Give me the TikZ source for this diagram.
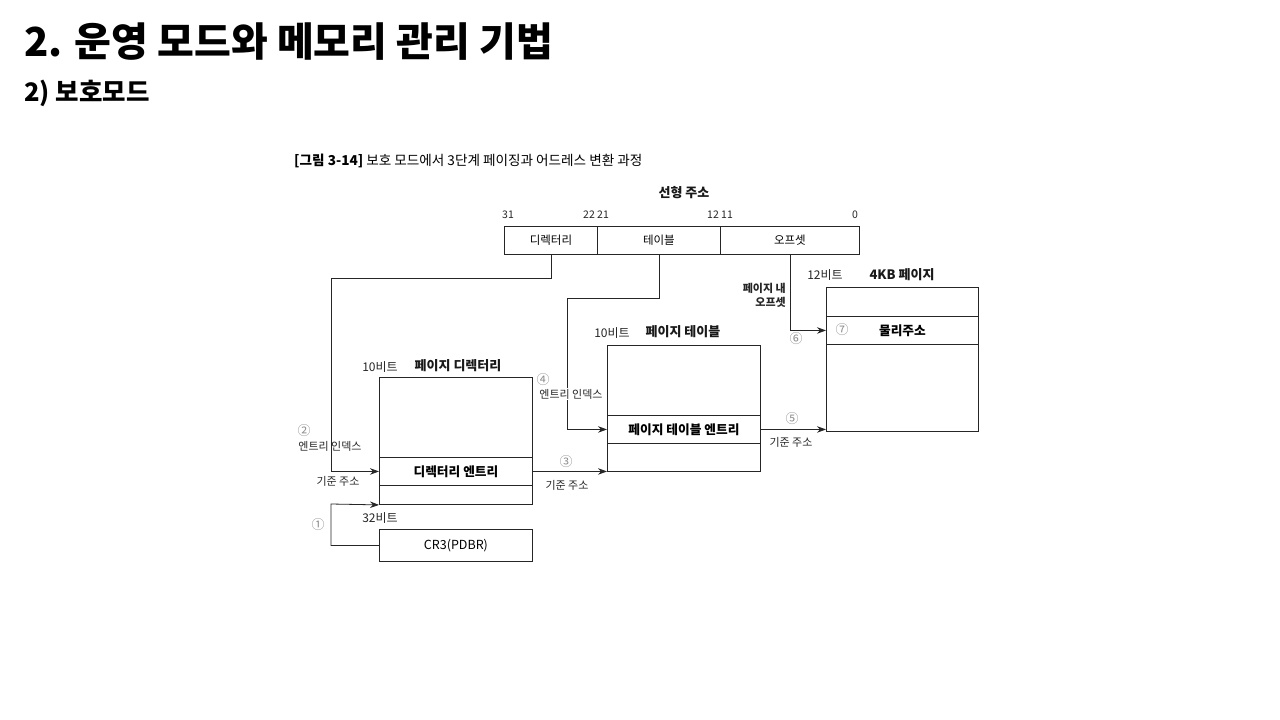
\documentclass[tikz,border=0pt]{standalone}
\usepackage{fontspec}
\setmainfont{Noto Sans CJK KR}
\usetikzlibrary{arrows.meta}
\tikzset{
  box/.style={draw=black!85, line width=0.9pt, inner sep=0pt, anchor=north west, rectangle},
  txt/.style={inner sep=0pt, font=\fontsize{11}{13}\selectfont, text=black!85},
  btxt/.style={inner sep=0pt, font=\fontsize{13}{15}\selectfont\bfseries, text=black!90},
  num/.style={inner sep=0pt, font=\fontsize{13}{15}\selectfont, text=black!45},
  conn/.style={draw=black!85, line width=0.8pt},
  arr/.style={conn, -{Stealth[length=9pt,width=6.5pt]}}
}
\begin{document}
\begin{tikzpicture}[x=1pt,y=-1pt]
\useasboundingbox[fill=white] (0,0) rectangle (1280,720);

% titles
\node[inner sep=0pt, anchor=west, font=\fontsize{40}{44}\selectfont\bfseries] (title) at (24,42) {2. 운영 모드와 메모리 관리 기법};
\node[inner sep=0pt, anchor=west, font=\fontsize{25.5}{30}\selectfont\bfseries] (sub) at (24,93) {2) 보호모드};
\node[inner sep=0pt, anchor=west, font=\fontsize{13.6}{16}\selectfont] (cap) at (294,161) {\textbf{[그림 3-14]} 보호 모드에서 3단계 페이징과 어드레스 변환 과정};

% linear address
\node[btxt] (lin) at (684,193) {선형 주소};
\node[txt, font=\fontsize{10.5}{12}\selectfont] (b31) at (508,215) {31};
\node[txt, font=\fontsize{10.5}{12}\selectfont] (b22) at (596,215) {22 21};
\node[txt, font=\fontsize{10.5}{12}\selectfont] (b12) at (720,215) {12 11};
\node[txt, font=\fontsize{10.5}{12}\selectfont] (b0) at (855,215) {0};
\node[box, minimum width=93pt, minimum height=28pt, font=\fontsize{11.5}{13}\selectfont] (dir) at (504,226) {디렉터리};
\node[box, minimum width=123pt, minimum height=28pt, font=\fontsize{11.5}{13}\selectfont] (tbl) at (597,226) {테이블};
\node[box, minimum width=139pt, minimum height=28pt, font=\fontsize{11.5}{13}\selectfont] (off) at (720,226) {오프셋};

% page directory
\node[box, minimum width=153pt, minimum height=127pt] (pd) at (379,377) {};
\node[box, minimum width=153pt, minimum height=28pt, font=\fontsize{12.7}{14}\selectfont\bfseries] (pde) at (379,457) {디렉터리 엔트리};
\node[txt, font=\fontsize{12}{14}\selectfont] (pdbits) at (380,367) {10비트};
\node[btxt] (pdname) at (458,366) {페이지 디렉터리};

% CR3
\node[box, minimum width=153pt, minimum height=32pt, font=\fontsize{12.5}{14}\selectfont] (cr3) at (379,529) {CR3(PDBR)};
\node[txt, font=\fontsize{12}{14}\selectfont] (crbits) at (380,518) {32비트};

% page table
\node[box, minimum width=153pt, minimum height=126pt] (pt) at (607,345) {};
\node[box, minimum width=153pt, minimum height=28pt, font=\fontsize{12.7}{14}\selectfont\bfseries] (pte) at (607,415) {페이지 테이블 엔트리};
\node[txt, font=\fontsize{12}{14}\selectfont] (ptbits) at (612,333) {10비트};
\node[btxt] (ptname) at (683,332) {페이지 테이블};

% 4KB page
\node[box, minimum width=152pt, minimum height=144pt] (pg) at (826,287) {};
\node[box, minimum width=152pt, minimum height=28pt, font=\fontsize{12.7}{14}\selectfont\bfseries] (pa) at (826,316) {물리주소};
\node[txt, font=\fontsize{12}{14}\selectfont] (pgbits) at (825,275) {12비트};
\node[btxt] (pgname) at (902,275) {4KB 페이지};
\node[num] (n7) at (842,330) {⑦};

% coordinates
\coordinate (c1) at (331,278);
\coordinate (c2) at (567,298);
\coordinate (c3) at (331,504);

% connectors
\draw[arr] (dir.south) |- (c1) |- (pde.west);
\draw[arr] (cr3.west) -| (c3) -- (pd.south west);
\draw[arr] (pde.east) -- (pde.east -| pt.west);
\draw[arr] (tbl.south) |- (c2) |- (pte.west);
\draw[arr] (pte.east) -- (pte.east -| pg.west);
\draw[arr] (off.south) |- (pa.west);

% labels
\node[num] (n1) at (318,525) {①};
\node[num] (n2) at (304,431) {②};
\node[txt] (l2) at (330,446) {엔트리 인덱스};
\node[txt] (l2b) at (338,481) {기준 주소};
\node[num] (n3) at (566,462) {③};
\node[txt] (l3) at (567,485) {기준 주소};
\node[num] (n4) at (543,380) {④};
\node[txt, fill=white, inner ysep=1pt] (l4) at (571,394) {엔트리 인덱스};
\node[num] (n5) at (792,419) {⑤};
\node[txt] (l5) at (791,442) {기준 주소};
\node[txt, anchor=east, font=\fontsize{11}{13}\selectfont\bfseries] (l6a) at (786,288) {페이지 내};
\node[txt, anchor=east, font=\fontsize{11}{13}\selectfont\bfseries] (l6b) at (786,302) {오프셋};
\node[num] (n6) at (796,339) {⑥};
\end{tikzpicture}
\end{document}
